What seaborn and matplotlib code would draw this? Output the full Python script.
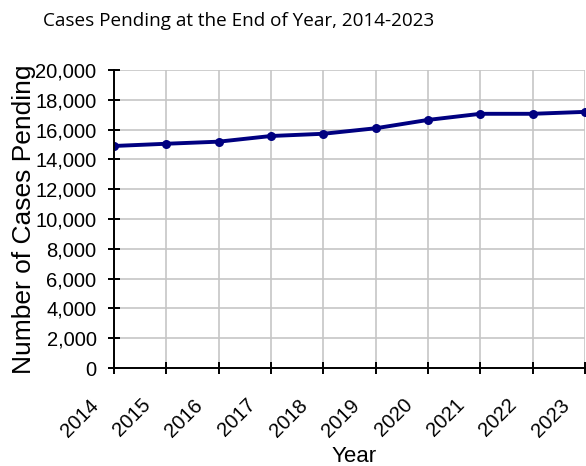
import matplotlib
matplotlib.use("Agg")
import matplotlib.pyplot as plt
import matplotlib.transforms as mtransforms
import seaborn as sns
import pandas as pd

years = [2014, 2015, 2016, 2017, 2018, 2019, 2020, 2021, 2022, 2023]
pending = [14900, 15050, 15190, 15570, 15720, 16090, 16650, 17060, 17060, 17190]

df = pd.DataFrame({"Year": years, "Pending": pending})

sns.set_theme(style="whitegrid", rc={"text.color": "black", "axes.labelcolor": "black",
                                     "xtick.color": "black", "ytick.color": "black"})
plt.rcParams["font.family"] = ["Liberation Sans", "DejaVu Sans"]

fig = plt.figure(figsize=(5.86, 4.66), dpi=100)
ax = fig.add_axes([0.1945, 0.2103, 0.804, 0.6395])

sns.lineplot(data=df, x="Year", y="Pending", ax=ax, color="#000080",
             linewidth=2.8, marker="o", markersize=6.5, markeredgewidth=0)

ax.set_xlim(2014, 2023)
ax.set_ylim(0, 20000)
ax.set_xticks(years)
ax.set_xticklabels([str(y) for y in years], rotation=45, ha="right", va="top",
                   fontsize=14.5)
ax.set_yticks(range(0, 20001, 2000))
ax.set_yticklabels([f"{v:,}" for v in range(0, 20001, 2000)], fontsize=14.5)

ax.grid(True, color="#c6c6c6", linewidth=1.2)
for s in ["top", "right"]:
    ax.spines[s].set_visible(False)
for s in ["left", "bottom"]:
    ax.spines[s].set_color("black")
    ax.spines[s].set_linewidth(1.4)
ax.tick_params(axis="both", which="major", direction="inout", length=8,
               width=1.4, color="black", bottom=True, left=True)
ax.tick_params(axis="x", pad=3.5)
ax.tick_params(axis="y", pad=8.5)

# push the rotated year labels down and left like the original
# (after tick_params, which resets label transforms)
shift = mtransforms.ScaledTranslation(-12 / 100, -17 / 100, fig.dpi_scale_trans)
for lbl in ax.get_xticklabels():
    lbl.set_transform(lbl.get_transform() + shift)

ax.set_xlabel("Year", fontsize=16, labelpad=0)
ax.set_ylabel("Number of Cases Pending", fontsize=19)
ax.yaxis.set_label_coords(-0.166, 0.5)
ax.xaxis.set_label_coords(0.51, -0.262)

fig.text(0.408, 0.955, "Cases Pending at the End of Year, 2014-2023",
         ha="center", va="center", fontsize=13.6, family=["Open Sans", "DejaVu Sans"])

fig.savefig("out.png", dpi=100)
